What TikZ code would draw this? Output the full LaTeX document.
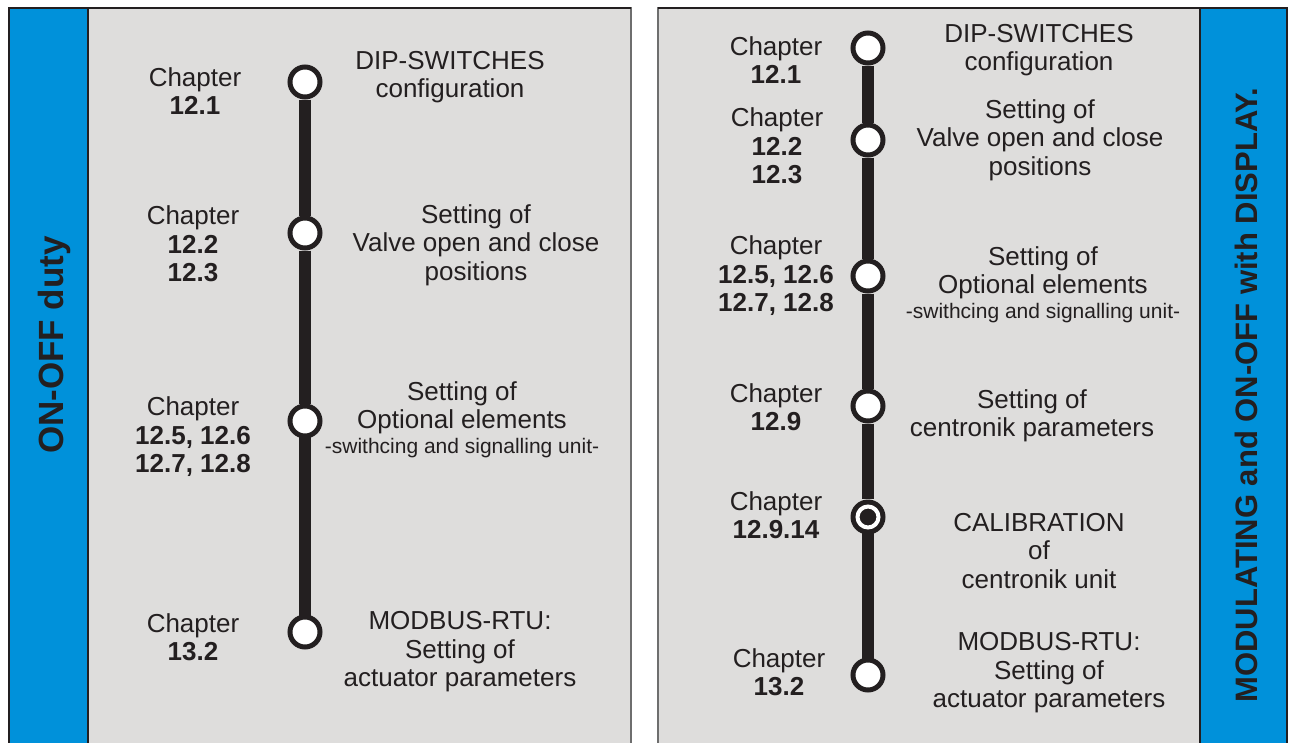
\documentclass[tikz,border=0pt]{standalone}
\usepackage{fontspec}
\setmainfont{Liberation Sans}
\definecolor{barblue}{RGB}{0,145,218}
\definecolor{panelgrey}{RGB}{222,221,220}
\definecolor{ink}{RGB}{35,31,32}
\definecolor{edge}{RGB}{110,110,110}
\begin{document}
\begin{tikzpicture}[x=1pt,y=-1pt,
  txt/.style={align=center, font=\fontsize{26}{28.5}\selectfont, text=ink, inner sep=0pt},
  smalltxt/.style={align=center, font=\fontsize{21}{24}\selectfont, text=ink, inner sep=0pt},
  title/.style={rotate=90, anchor=base, text=ink, inner sep=0pt},
  stop/.style={circle, draw=ink, line width=5pt, fill=white, minimum size=30pt, inner sep=0pt},
  calib/.style={circle, fill=ink, minimum size=35pt, inner sep=0pt,
    path picture={\draw[white, line width=4pt] (path picture bounding box.center) circle (10.5pt);}},
  spine/.style={draw=ink, line width=12pt, shorten <=-3pt, shorten >=-3pt},
  bluebar/.style={fill=barblue, draw=ink, line width=1.5pt},
  greypanel/.style={fill=panelgrey, draw=edge, line width=1.2pt}
]
\useasboundingbox (0,0) rectangle (1291,742);
% panels
\path[greypanel] (88,8) rectangle (631,760);
\path[bluebar] (9,8) rectangle (88,760);
\path[greypanel] (658,8) rectangle (1200,760);
\path[bluebar] (1200,8) rectangle (1287,760);
\draw[ink, line width=1.5pt] (9,8) -- (631,8) (658,8) -- (1287,8);

% titles
\node[title, font=\bfseries\fontsize{35}{40}\selectfont] (ltitle) at (63,345) {ON-OFF duty};
\node[title, font=\bfseries\fontsize{31}{36}\selectfont] (rtitle) at (1257,395) {MODULATING and ON-OFF with DISPLAY.};

% left timeline
\node[stop] (L1) at (305,82) {};
\node[stop] (L2) at (305,233) {};
\node[stop] (L3) at (305,421) {};
\node[stop] (L4) at (305,632) {};
\path[spine] (L1.south) -- (L2.north) (L2.south) -- (L3.north) (L3.south) -- (L4.north);

\node[txt] (lc1) at (195,91) {Chapter\\\textbf{12.1}};
\node[txt] (lt1) at (450,77) {DIP-SWITCHES\\configuration};
\node[txt] (lc2) at (193,244) {Chapter\\\textbf{12.2}\\\textbf{12.3}};
\node[txt] (lt2) at (476,245) {Setting of\\Valve open and close\\positions};
\node[txt] (lc3) at (193,437) {Chapter\\\textbf{12.5, 12.6}\\\textbf{12.7, 12.8}};
\node[txt] (lt3) at (462,408) {Setting of\\Optional elements};
\node[smalltxt] (lt3s) at (462,448) {-swithcing and signalling unit-};
\node[txt] (lc4) at (193,637) {Chapter\\\textbf{13.2}};
\node[txt] (lt4) at (460,652) {MODBUS-RTU:\\Setting of\\actuator parameters};

% right timeline
\node[stop] (R1) at (868,48) {};
\node[stop] (R2) at (868,140) {};
\node[stop] (R3) at (868,276) {};
\node[stop] (R4) at (868,406) {};
\node[calib] (R5) at (868,517) {};
\node[stop] (R6) at (868,675) {};
\path[spine] (R1.south) -- (R2.north) (R2.south) -- (R3.north) (R3.south) -- (R4.north)
  (R4.south) -- (R5.north) (R5.south) -- (R6.north);

\node[txt] (rc1) at (776,60) {Chapter\\\textbf{12.1}};
\node[txt] (rt1) at (1039,50) {DIP-SWITCHES\\configuration};
\node[txt] (rc2) at (777,146) {Chapter\\\textbf{12.2}\\\textbf{12.3}};
\node[txt] (rt2) at (1040,140) {Setting of\\Valve open and close\\positions};
\node[txt] (rc3) at (776,276) {Chapter\\\textbf{12.5, 12.6}\\\textbf{12.7, 12.8}};
\node[txt] (rt3) at (1043,273) {Setting of\\Optional elements};
\node[smalltxt] (rt3s) at (1043,313) {-swithcing and signalling unit-};
\node[txt] (rc4) at (776,407) {Chapter\\\textbf{12.9}};
\node[txt] (rt4) at (1032,416) {Setting of\\centronik parameters};
\node[txt] (rc5) at (776,515) {Chapter\\\textbf{12.9.14}};
\node[txt] (rt5) at (1039,551) {CALIBRATION\\of\\centronik unit};
\node[txt] (rc6) at (779,672) {Chapter\\\textbf{13.2}};
\node[txt] (rt6) at (1049,673) {MODBUS-RTU:\\Setting of\\actuator parameters};
\end{tikzpicture}
\end{document}
